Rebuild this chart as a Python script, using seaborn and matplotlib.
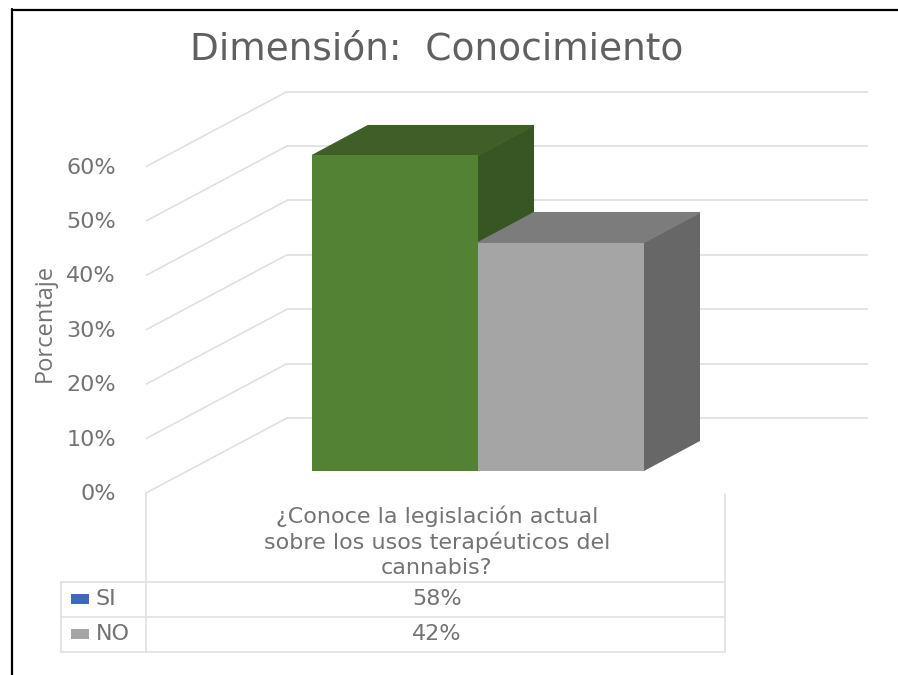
import matplotlib
matplotlib.use('Agg')
import matplotlib.pyplot as plt
import seaborn as sns
from matplotlib.lines import Line2D
from matplotlib.patches import Polygon, Rectangle

respuestas = ['SI', 'NO']
valores = [58, 42]
ticks = [0, 10, 20, 30, 40, 50, 60]
pregunta = ['¿Conoce la legislación actual', 'sobre los usos terapéuticos del', 'cannabis?']
titulo = 'Dimensión:  Conocimiento'

W, H = 898, 675
texto = '#737373'
linea = '#e0e0e0'

sns.set_style('white')
plt.rcParams['font.family'] = ['DejaVu Sans']

fig = plt.figure(figsize=(W / 100, H / 100), dpi=100)
ax = fig.add_axes([0, 0, 1, 1])

sns.barplot(x=respuestas, y=valores, hue=respuestas,
            palette=['#548235', '#a5a5a5'], width=1, legend=False,
            saturation=1, linewidth=0, ax=ax)

# scale of the front plane of the bars, in pixels
x_px = 166.0
y_px = 5.44
x0 = 395.0
y0 = 471.0
ax.set_xlim((0 - x0) / x_px, (W - x0) / x_px)
ax.set_ylim((y0 - H) / y_px, y0 / y_px)
ax.axis('off')


def X(px):
    return (px - x0) / x_px


def Y(py):
    return (y0 - py) / y_px


# depth of the bars and of the walls
bar_dx, bar_dy = 56 / x_px, 30 / y_px
wall_dx, wall_dy = 141 / x_px, 75 / y_px
wall_x, wall_y = X(146), Y(493)

# walls and gridlines
for t in ticks:
    base = wall_y + t * 1.0
    ax.plot([wall_x, wall_x + wall_dx], [base, base + wall_dy],
            color=linea, lw=1.2, zorder=0.5, solid_capstyle='butt')
    ax.plot([wall_x + wall_dx, X(868)], [base + wall_dy, base + wall_dy],
            color=linea, lw=1.3, zorder=0.5, solid_capstyle='butt')
    ax.text(X(116), base - 0.2, f'{t}%', ha='right', va='center',
            fontsize=16, color=texto)

# 3d faces built from the bars seaborn drew, back bar first
caras = [('#3f5e28', '#375623'), ('#7c7c7c', '#676767')]
for i, (bar, (c_top, c_side)) in enumerate(zip(ax.patches, caras)):
    x1, x2 = bar.get_x(), bar.get_x() + bar.get_width()
    h = bar.get_height()
    bar.set_zorder(4)
    ax.add_patch(Polygon([(x2, 0), (x2 + bar_dx, bar_dy), (x2 + bar_dx, h + bar_dy), (x2, h)],
                         facecolor=c_side, edgecolor='none', zorder=2 + i * 0.5))
    ax.add_patch(Polygon([(x1, h), (x2, h), (x2 + bar_dx, h + bar_dy), (x1 + bar_dx, h + bar_dy)],
                         facecolor=c_top, edgecolor=c_top, lw=0.8, zorder=2 + i * 0.5))

# data table under the plot
t_left, t_col, t_right = X(61), X(146), X(725)
for py in [582, 617, 652]:
    ax.plot([t_left, t_right], [Y(py), Y(py)], color=linea, lw=1.2)
ax.plot([t_left, t_left], [Y(582), Y(652)], color=linea, lw=1.2)
ax.plot([t_col, t_col], [Y(493), Y(652)], color=linea, lw=1.2)
ax.plot([t_right, t_right], [Y(494), Y(652)], color=linea, lw=1.2)

for linea_txt, py in zip(pregunta, [516, 542, 568]):
    ax.text(X(437), Y(py), linea_txt, ha='center', va='center', fontsize=16, color=texto)

swatches = ['#3f68b8', '#a5a5a5']
for nombre, v, py, col in zip(respuestas, valores, [599, 634], swatches):
    ax.add_patch(Rectangle((X(71), Y(py + 5)), 18 / x_px, 10 / y_px, facecolor=col, edgecolor='none'))
    ax.text(X(96), Y(py), nombre, ha='left', va='center', fontsize=16, color=texto)
    ax.text(X(437), Y(py), f'{v}%', ha='center', va='center', fontsize=16, color=texto)

ax.text(X(437), Y(50), titulo, ha='center', va='center', fontsize=27, color='#606060')
ax.text(X(45), Y(323), 'Porcentaje', rotation=90, ha='center', va='center',
        fontsize=17, color=texto, family='Open Sans')

# frame of the screenshot, only left and top
fig.add_artist(Line2D([12 / W, 12 / W], [0, 1 - 9 / H], color='black', lw=1.6))
fig.add_artist(Line2D([12 / W, 1], [1 - 9.5 / H, 1 - 9.5 / H], color='black', lw=1.6))

fig.savefig('out.png', dpi=100)
